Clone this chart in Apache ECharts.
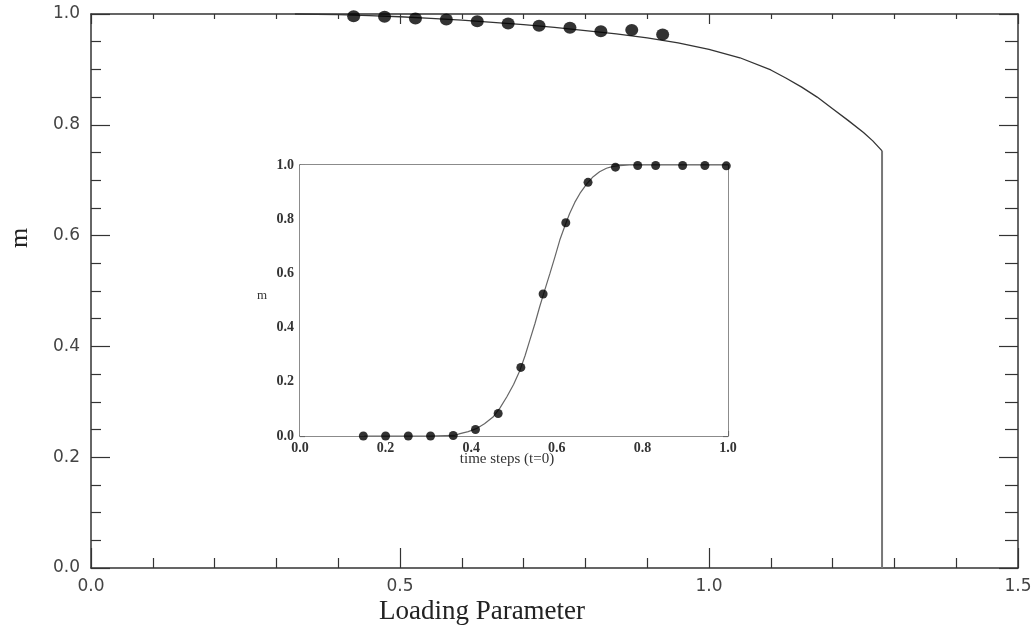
<!DOCTYPE html>
<html>
<head>
<meta charset="utf-8">
<script src="https://cdn.jsdelivr.net/npm/echarts@6/dist/echarts.min.js"></script>
<style>
html,body{margin:0;padding:0;background:#fff;}
#chart{width:1033px;height:628px;}
</style>
</head>
<body>
<div id="chart"></div>
<script>
// ---- main plot data ----
var curveX = [0.33,0.40,0.45,0.50,0.55,0.60,0.65,0.70,0.75,0.80,0.85,0.90,0.95,1.00,1.05,1.10,1.125,1.15,1.175,1.20,1.225,1.25,1.265,1.28];
var curveM = [1.000,0.999,0.997,0.995,0.992,0.989,0.985,0.981,0.976,0.970,0.964,0.957,0.948,0.936,0.921,0.899,0.884,0.868,0.850,0.829,0.808,0.786,0.771,0.753];
var dropX = [1.28,1.28];
var dropM = [0.753,0.0];
var dotX = [0.425,0.475,0.525,0.575,0.625,0.675,0.725,0.775,0.825,0.875,0.925];
var dotM = [0.996,0.995,0.992,0.990,0.987,0.983,0.979,0.975,0.969,0.971,0.963];
// ---- inset data ----
var insetCurveX = [0.15,0.30,0.36,0.374,0.393,0.412,0.431,0.451,0.467,0.483,0.499,0.514,0.526,0.537,0.549,0.560,0.572,0.584,0.596,0.607,0.619,0.630,0.642,0.654,0.670,0.685,0.700,0.716,0.731,0.747,0.77,0.80,0.90,1.0];
var insetCurveM = [0,0,0.002,0.009,0.016,0.027,0.045,0.070,0.103,0.144,0.190,0.243,0.297,0.354,0.415,0.477,0.539,0.600,0.663,0.723,0.776,0.821,0.862,0.895,0.930,0.957,0.975,0.988,0.995,0.998,1.0,1.0,1.0,1.0];
var insetDotX = [0.148,0.200,0.253,0.305,0.358,0.410,0.463,0.516,0.568,0.621,0.673,0.737,0.789,0.831,0.894,0.946,0.996];
var insetDotM = [0,0,0,0,0.002,0.024,0.083,0.253,0.524,0.787,0.936,0.992,0.998,0.998,0.998,0.998,0.997];
// ---- labels ----
var xTitle = 'Loading Parameter';
var yTitle = 'm';
var insetXTitle = 'time steps (t=0)';
var insetYTitle = 'm';

function zip(a,b){ return a.map(function(v,i){ return [v,b[i]]; }); }
function fmt(v){ return v.toFixed(1); }

var mainAxisColor = '#333';
var insetAxisColor = '#666';
var sansLabel = {fontFamily:'DejaVu Sans', fontSize:17, color:'#444'};
var serifLabel = {fontFamily:'Liberation Serif', fontSize:14, color:'#333', fontWeight:'bold'};

function mkAxis(grid, pos, min, max, interval, majLen, minSplit, minLen, color, showLabel, labelStyle, margin){
  return {
    type:'value', gridIndex:grid, position:pos, min:min, max:max, interval:interval,
    axisLine:{show:true, onZero:false, lineStyle:{color:color, width:1.5}},
    axisTick:{show:true, inside:true, length:majLen, lineStyle:{color:color, width:1.2}},
    minorTick:{show:true, splitNumber:minSplit, length:minLen, lineStyle:{color:color, width:1.2}},
    axisLabel:Object.assign({show:showLabel, formatter:fmt, margin:margin}, labelStyle),
    splitLine:{show:false}, minorSplitLine:{show:false}
  };
}

var chart = echarts.init(document.getElementById('chart'), null, {renderer:'canvas'});
var option = {
  animation:false,
  backgroundColor:'#fff',
  grid:[
    {left:91, top:14, width:927, height:554, outerBoundsMode:'none', show:false},
    {left:300, top:165, width:428, height:271, outerBoundsMode:'none', show:true, backgroundColor:'#fff', borderWidth:0, z:5}
  ],
  xAxis:[
    mkAxis(0,'bottom',0,1.5,0.5,20,5,10,mainAxisColor,true,sansLabel,10),
    mkAxis(0,'top',0,1.5,0.5,10,5,5,mainAxisColor,false,sansLabel,10),
    mkAxis(1,'bottom',0,1.0,0.2,5,4,3,insetAxisColor,true,serifLabel,5),
    mkAxis(1,'top',0,1.0,0.2,5,4,3,insetAxisColor,false,serifLabel,5)
  ],
  yAxis:[
    mkAxis(0,'left',0,1.0,0.2,19,4,10,mainAxisColor,true,sansLabel,11),
    mkAxis(0,'right',0,1.0,0.2,19,4,13,mainAxisColor,false,sansLabel,11),
    mkAxis(1,'left',0,1.0,0.2,5,4,3,insetAxisColor,true,serifLabel,6),
    mkAxis(1,'right',0,1.0,0.2,5,4,3,insetAxisColor,false,serifLabel,6)
  ],
  series:[
    {type:'line', xAxisIndex:0, yAxisIndex:0, data:zip(curveX,curveM), showSymbol:false, symbol:'none',
     lineStyle:{color:'#333', width:1.3}, clip:false, z:3},
    {type:'line', xAxisIndex:0, yAxisIndex:0, data:zip(dropX,dropM), showSymbol:false, symbol:'none',
     lineStyle:{color:'#777', width:2}, clip:false, z:3},
    {type:'scatter', xAxisIndex:0, yAxisIndex:0, data:zip(dotX,dotM), symbol:'circle', symbolSize:[13,12],
     itemStyle:{color:'#000'}, clip:false, z:4},
    {type:'line', xAxisIndex:2, yAxisIndex:2, data:zip(insetCurveX,insetCurveM), showSymbol:false, symbol:'none',
     lineStyle:{color:'#666', width:1.2}, clip:false, z:6},
    {type:'scatter', xAxisIndex:2, yAxisIndex:2, data:zip(insetDotX,insetDotM), symbol:'circle', symbolSize:9,
     itemStyle:{color:'#000'}, clip:false, z:7}
  ],
  graphic:[
    {type:'text', x:482, y:612, z:10, style:{text:xTitle, font:'27px "Liberation Serif"', fill:'#222', align:'center', verticalAlign:'middle'}},
    {type:'text', x:20, y:238, rotation:Math.PI/2, z:10, style:{text:yTitle, font:'26px "Liberation Serif"', fill:'#222', align:'center', verticalAlign:'middle'}},
    {type:'text', x:507, y:459, z:10, style:{text:insetXTitle, font:'15px "Liberation Serif"', fill:'#333', align:'center', verticalAlign:'middle'}},
    {type:'text', x:262, y:296, z:10, style:{text:insetYTitle, font:'13px "Liberation Serif"', fill:'#333', align:'center', verticalAlign:'middle'}}
  ]
};
chart.setOption(option);
</script>
</body>
</html>
